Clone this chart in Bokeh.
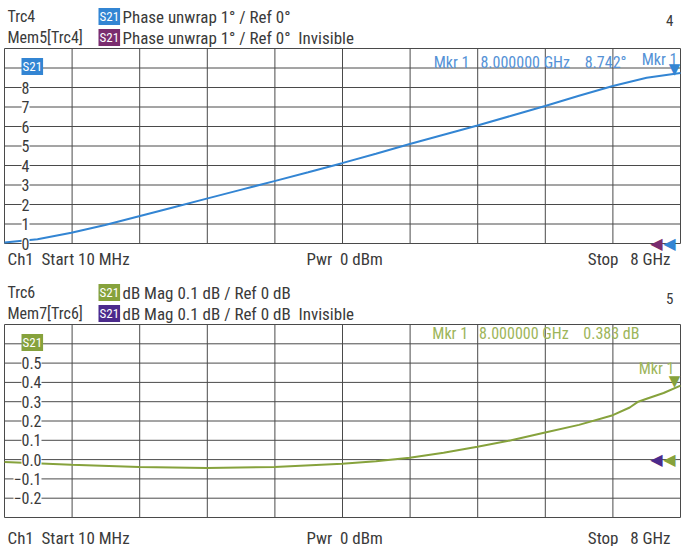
from bokeh.plotting import figure
from bokeh.models import Range1d, Label, LabelSet, ColumnDataSource
from bokeh.layouts import column
from bokeh.core.properties import value
from bokeh.embed import file_html
from bokeh.resources import INLINE

# ---------------- data ----------------
start_ghz = 0.01
stop_ghz = 8.0

freq_phase = [0.01, 0.4, 0.8, 1.2, 1.6, 2.0, 2.4, 2.8, 3.2, 3.6, 4.0, 4.4, 4.8,
              5.2, 5.6, 6.0, 6.4, 6.8, 7.2, 7.6, 8.0]
phase_deg = [0.05, 0.22, 0.55, 0.95, 1.4, 1.85, 2.3, 2.75, 3.2, 3.65, 4.12, 4.6,
             5.1, 5.58, 6.05, 6.55, 7.05, 7.58, 8.08, 8.5, 8.742]

freq_mag = [0.01, 0.8, 1.6, 2.4, 3.2, 4.0, 4.4, 4.8, 5.2, 5.6, 6.0, 6.4, 6.8,
            7.2, 7.4, 7.5, 7.6, 7.8, 8.0]
mag_db = [-0.012, -0.027, -0.038, -0.044, -0.038, -0.022, -0.008, 0.009, 0.035,
          0.067, 0.1, 0.14, 0.18, 0.23, 0.27, 0.30, 0.315, 0.345, 0.383]

phase_ticks = [0, 1, 2, 3, 4, 5, 6, 7, 8]
phase_tick_labels = ["0", "1", "2", "3", "4", "5", "6", "7", "8"]
phase_range = (0, 10)

mag_ticks = [-0.2, -0.1, 0.0, 0.1, 0.2, 0.3, 0.4, 0.5]
mag_tick_labels = ["\u22120.2", "\u22120.1", "0.0", "0.1", "0.2", "0.3", "0.4", "0.5"]
mag_range = (-0.3, 0.7)

ref_phase = 0.0
ref_mag = 0.0

FONT_NAME = "Roboto Condensed, DejaVu Sans Condensed, Roboto"
FONT = value(FONT_NAME)
TXT = "#3a3a3a"
GRID = "#4a4a4a"
BLUE = "#3385d3"
BLUE_T = "#5592d6"
PURPLE = "#7a2d6e"
GREEN = "#86a23c"
GREEN_T = "#9db55a"
INDIGO = "#4b2a8c"

W = 684
S = "\u00a0"


def make_fig(height, top, bottom, yr, nydiv, left=4, right=4):
    h = height - top - bottom
    upp = (yr[1] - yr[0]) / h
    w = W - left - right
    xupp = (stop_ghz - start_ghz) / w
    p = figure(width=W, height=height, output_backend="svg", toolbar_location=None,
               x_range=Range1d(start_ghz - left * xupp, stop_ghz + right * xupp),
               y_range=Range1d(yr[0] - bottom * upp, yr[1] + top * upp),
               x_axis_type=None, y_axis_type=None, title=None,
               min_border_top=0, min_border_bottom=0,
               min_border_left=0, min_border_right=0)
    p.outline_line_color = None
    xt = [start_ghz + i * (stop_ghz - start_ghz) / 10 for i in range(11)]
    yt = [yr[0] + i * (yr[1] - yr[0]) / nydiv for i in range(nydiv + 1)]
    p.segment(x0=xt, y0=[yr[0]] * len(xt), x1=xt, y1=[yr[1]] * len(xt),
              line_color=GRID, line_width=1)
    p.segment(x0=[start_ghz] * len(yt), y0=yt, x1=[stop_ghz] * len(yt), y1=yt,
              line_color=GRID, line_width=1)
    p.background_fill_color = "white"
    p.border_fill_color = "white"
    return p


def lab(p, x, y, text, color=TXT, size="16px", align="left", bg=None):
    kw = {}
    if bg is not None:
        kw = dict(background_fill_color=bg, padding=1)
    p.add_layout(Label(x=x, y=p.height - y, x_units="screen", y_units="screen", text=text,
                       text_font=FONT_NAME, text_font_size=size, text_color=color,
                       text_align=align, text_baseline="middle", **kw))


def decorate(p, trc, mem, desc, badge_c, mem_c, num, num_y, row1, row2, inner_y,
             readout, read_c, read_y, read_x, foot_y):
    lab(p, 7, row1, trc)
    lab(p, 7, row2, mem)
    lab(p, 98, row1, "S21", color="white", size="13px", bg=badge_c)
    lab(p, 122, row1, desc, size="17px")
    lab(p, 98, row2, "S21", color="white", size="13px", bg=mem_c)
    lab(p, 122, row2, desc + S * 2 + "Invisible", size="17px")
    lab(p, 673, num_y, num, size="15px", align="right")
    lab(p, 21, inner_y, "S21", color="white", size="13px", bg=badge_c)
    lab(p, read_x, read_y, readout, color=read_c, align="right")
    lab(p, 7, foot_y, "Ch1" + S * 2 + "Start" + S + "10 MHz", size="17px")
    lab(p, 306, foot_y, "Pwr" + S * 2 + "0 dBm", size="17px")
    lab(p, 670, foot_y, "Stop" + S * 3 + "8 GHz", size="17px", align="right")


# ---------------- top: phase ----------------
p1 = make_fig(272, 48, 29, phase_range, 10)
p1.line(freq_phase, phase_deg, line_color=BLUE, line_width=2)
src1 = ColumnDataSource(dict(y=phase_ticks, t=phase_tick_labels))
p1.add_layout(LabelSet(x=29, y="y", x_units="screen", text="t", source=src1,
                       text_font=FONT, text_font_size="16px", text_color=TXT,
                       text_align="right", text_baseline="middle",
                       background_fill_color="white"))
decorate(p1, "Trc4", "Mem5[Trc4]", "Phase unwrap 1\u00b0 / Ref 0\u00b0",
         BLUE, PURPLE, "4", 20, 16, 37, 66,
         "Mkr 1" + S * 3 + "8.000000 GHz" + S * 4 + "%.3f\u00b0" % phase_deg[-1],
         BLUE_T, 62, 626, 258)

p1.text(x=[freq_phase[-1]], y=[phase_deg[-1]], text=["Mkr 1"], text_font=FONT,
        text_font_size="16px", text_color=BLUE_T, text_align="right",
        text_baseline="bottom", y_offset=-4, x_offset=-3)
p1.text(x=[freq_phase[-1]], y=[phase_deg[-1]], text=["\u25bc"], text_font=value("DejaVu Sans"),
        text_font_size="15px", text_color=BLUE, text_align="center",
        text_baseline="bottom", y_offset=5, x_offset=-6)
p1.text(x=[stop_ghz, stop_ghz], y=[ref_phase, ref_phase], text=["\u25c0", "\u25c0"],
        text_font=value("DejaVu Sans"), text_font_size="16px",
        text_color=[PURPLE, BLUE], text_align="right", text_baseline="middle",
        x_offset=[-18, -5], y_offset=[0, 0])

# ---------------- bottom: magnitude ----------------
p2 = make_fig(274, 52, 29, mag_range, 10)
p2.line(freq_mag, mag_db, line_color=GREEN, line_width=2)
src2 = ColumnDataSource(dict(y=mag_ticks, t=mag_tick_labels))
p2.add_layout(LabelSet(x=41, y="y", x_units="screen", text="t", source=src2,
                       text_font=FONT, text_font_size="16px", text_color=TXT,
                       text_align="right", text_baseline="middle",
                       background_fill_color="white"))
decorate(p2, "Trc6", "Mem7[Trc6]", "dB Mag 0.1 dB / Ref 0 dB",
         GREEN, INDIGO, "5", 26, 20, 41, 70,
         "Mkr 1" + S * 3 + "8.000000 GHz" + S * 4 + "%.3f dB" % mag_db[-1],
         GREEN_T, 61, 639, 265)

p2.text(x=[freq_mag[-1]], y=[mag_db[-1]], text=["Mkr 1"], text_font=FONT,
        text_font_size="16px", text_color=GREEN_T, text_align="right",
        text_baseline="bottom", y_offset=-8, x_offset=-6)
p2.text(x=[freq_mag[-1]], y=[mag_db[-1]], text=["\u25bc"], text_font=value("DejaVu Sans"),
        text_font_size="15px", text_color=GREEN, text_align="center",
        text_baseline="bottom", y_offset=4, x_offset=-6)
p2.text(x=[stop_ghz, stop_ghz], y=[ref_mag, ref_mag], text=["\u25c0", "\u25c0"],
        text_font=value("DejaVu Sans"), text_font_size="16px",
        text_color=[INDIGO, GREEN], text_align="right", text_baseline="middle",
        x_offset=[-18, -5], y_offset=[0, 0])

layout = column(p1, p2, spacing=0)
open("out.html", "w").write(file_html(layout, INLINE))
